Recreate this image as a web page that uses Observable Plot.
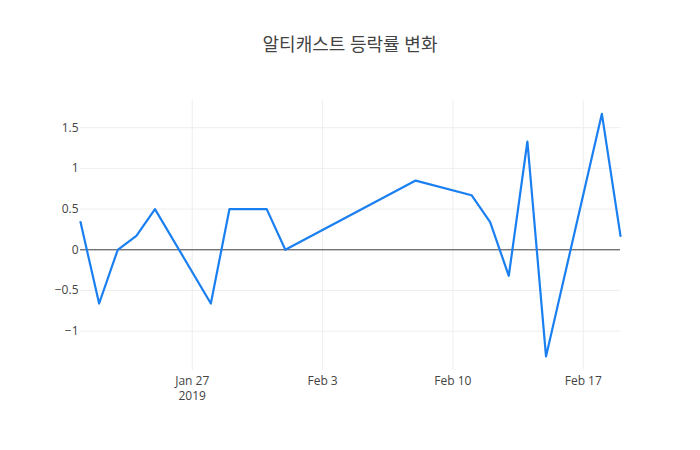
<!DOCTYPE html>
<html>
<head>
<meta charset="utf-8">
<script src="https://cdn.jsdelivr.net/npm/d3@7"></script>
<script src="https://cdn.jsdelivr.net/npm/@observablehq/plot@0.6"></script>
<style>
  body { margin: 0; background: #fff; }
  #wrap { position: relative; width: 700px; height: 450px; font-family: "Open Sans", "Noto Sans CJK KR", sans-serif; }
  #title { position: absolute; left: 0; width: 700px; top: 31px; text-align: center; font-size: 18px; color: #444; font-family: "Open Sans", "Noto Sans CJK KR", sans-serif; line-height: 26px; }
</style>
</head>
<body>
<div id="wrap"><div id="title">알티캐스트 등락률 변화</div></div>
<script>
const title = "알티캐스트 등락률 변화";
const dates = ["2019-01-21","2019-01-22","2019-01-23","2019-01-24","2019-01-25",
  "2019-01-28","2019-01-29","2019-01-30","2019-01-31","2019-02-01",
  "2019-02-08","2019-02-11","2019-02-12","2019-02-13","2019-02-14","2019-02-15",
  "2019-02-18","2019-02-19"];
const changes = [0.34, -0.66, 0, 0.17, 0.5,
  -0.66, 0.5, 0.5, 0.5, 0,
  0.85, 0.67, 0.34, -0.32, 1.33, -1.31,
  1.67, 0.17];
const xTicks = ["2019-01-27","2019-02-03","2019-02-10","2019-02-17"];
const xTickLabels = ["Jan 27\n2019","Feb 3","Feb 10","Feb 17"];
const yTicks = [-1, -0.5, 0, 0.5, 1, 1.5];

const data = dates.map((d, i) => ({date: new Date(d + "T00:00:00Z"), value: changes[i]}));
const xt = xTicks.map(d => new Date(d + "T00:00:00Z"));
const fmtY = d3.format("");

const chart = Plot.plot({
  width: 700,
  height: 450,
  marginTop: 100,
  marginBottom: 80,
  marginLeft: 80,
  marginRight: 80,
  style: {fontFamily: '"Open Sans", sans-serif', fontSize: "12px", color: "#444", background: "transparent"},
  x: {type: "utc", domain: [data[0].date, data[data.length - 1].date]},
  y: {domain: [-1.483, 1.834]},
  marks: [
    Plot.gridX(xt, {stroke: "#eee", strokeOpacity: 1, strokeWidth: 1}),
    Plot.gridY(yTicks, {stroke: "#eee", strokeOpacity: 1, strokeWidth: 1}),
    Plot.axisX(xt, {tickSize: 0, tickPadding: 3, tickFormat: (d) => xTickLabels[xt.findIndex(t => +t === +d)], label: null, fill: "#444", fontSize: 12, lineHeight: 1.3, textAnchor: "middle", lineAnchor: "top"}),
    Plot.axisY(yTicks, {tickSize: 0, tickPadding: 2, tickFormat: fmtY, label: null, fill: "#444", fontSize: 12}),
    Plot.ruleY([0], {stroke: "#444", strokeWidth: 1}),
    Plot.line(data, {x: "date", y: "value", stroke: "#1a7ff0", strokeWidth: 2.2})
  ]
});
document.getElementById("wrap").appendChild(chart);
chart.style.position = "absolute";
chart.style.left = "0";
chart.style.top = "0";
</script>
</body>
</html>
